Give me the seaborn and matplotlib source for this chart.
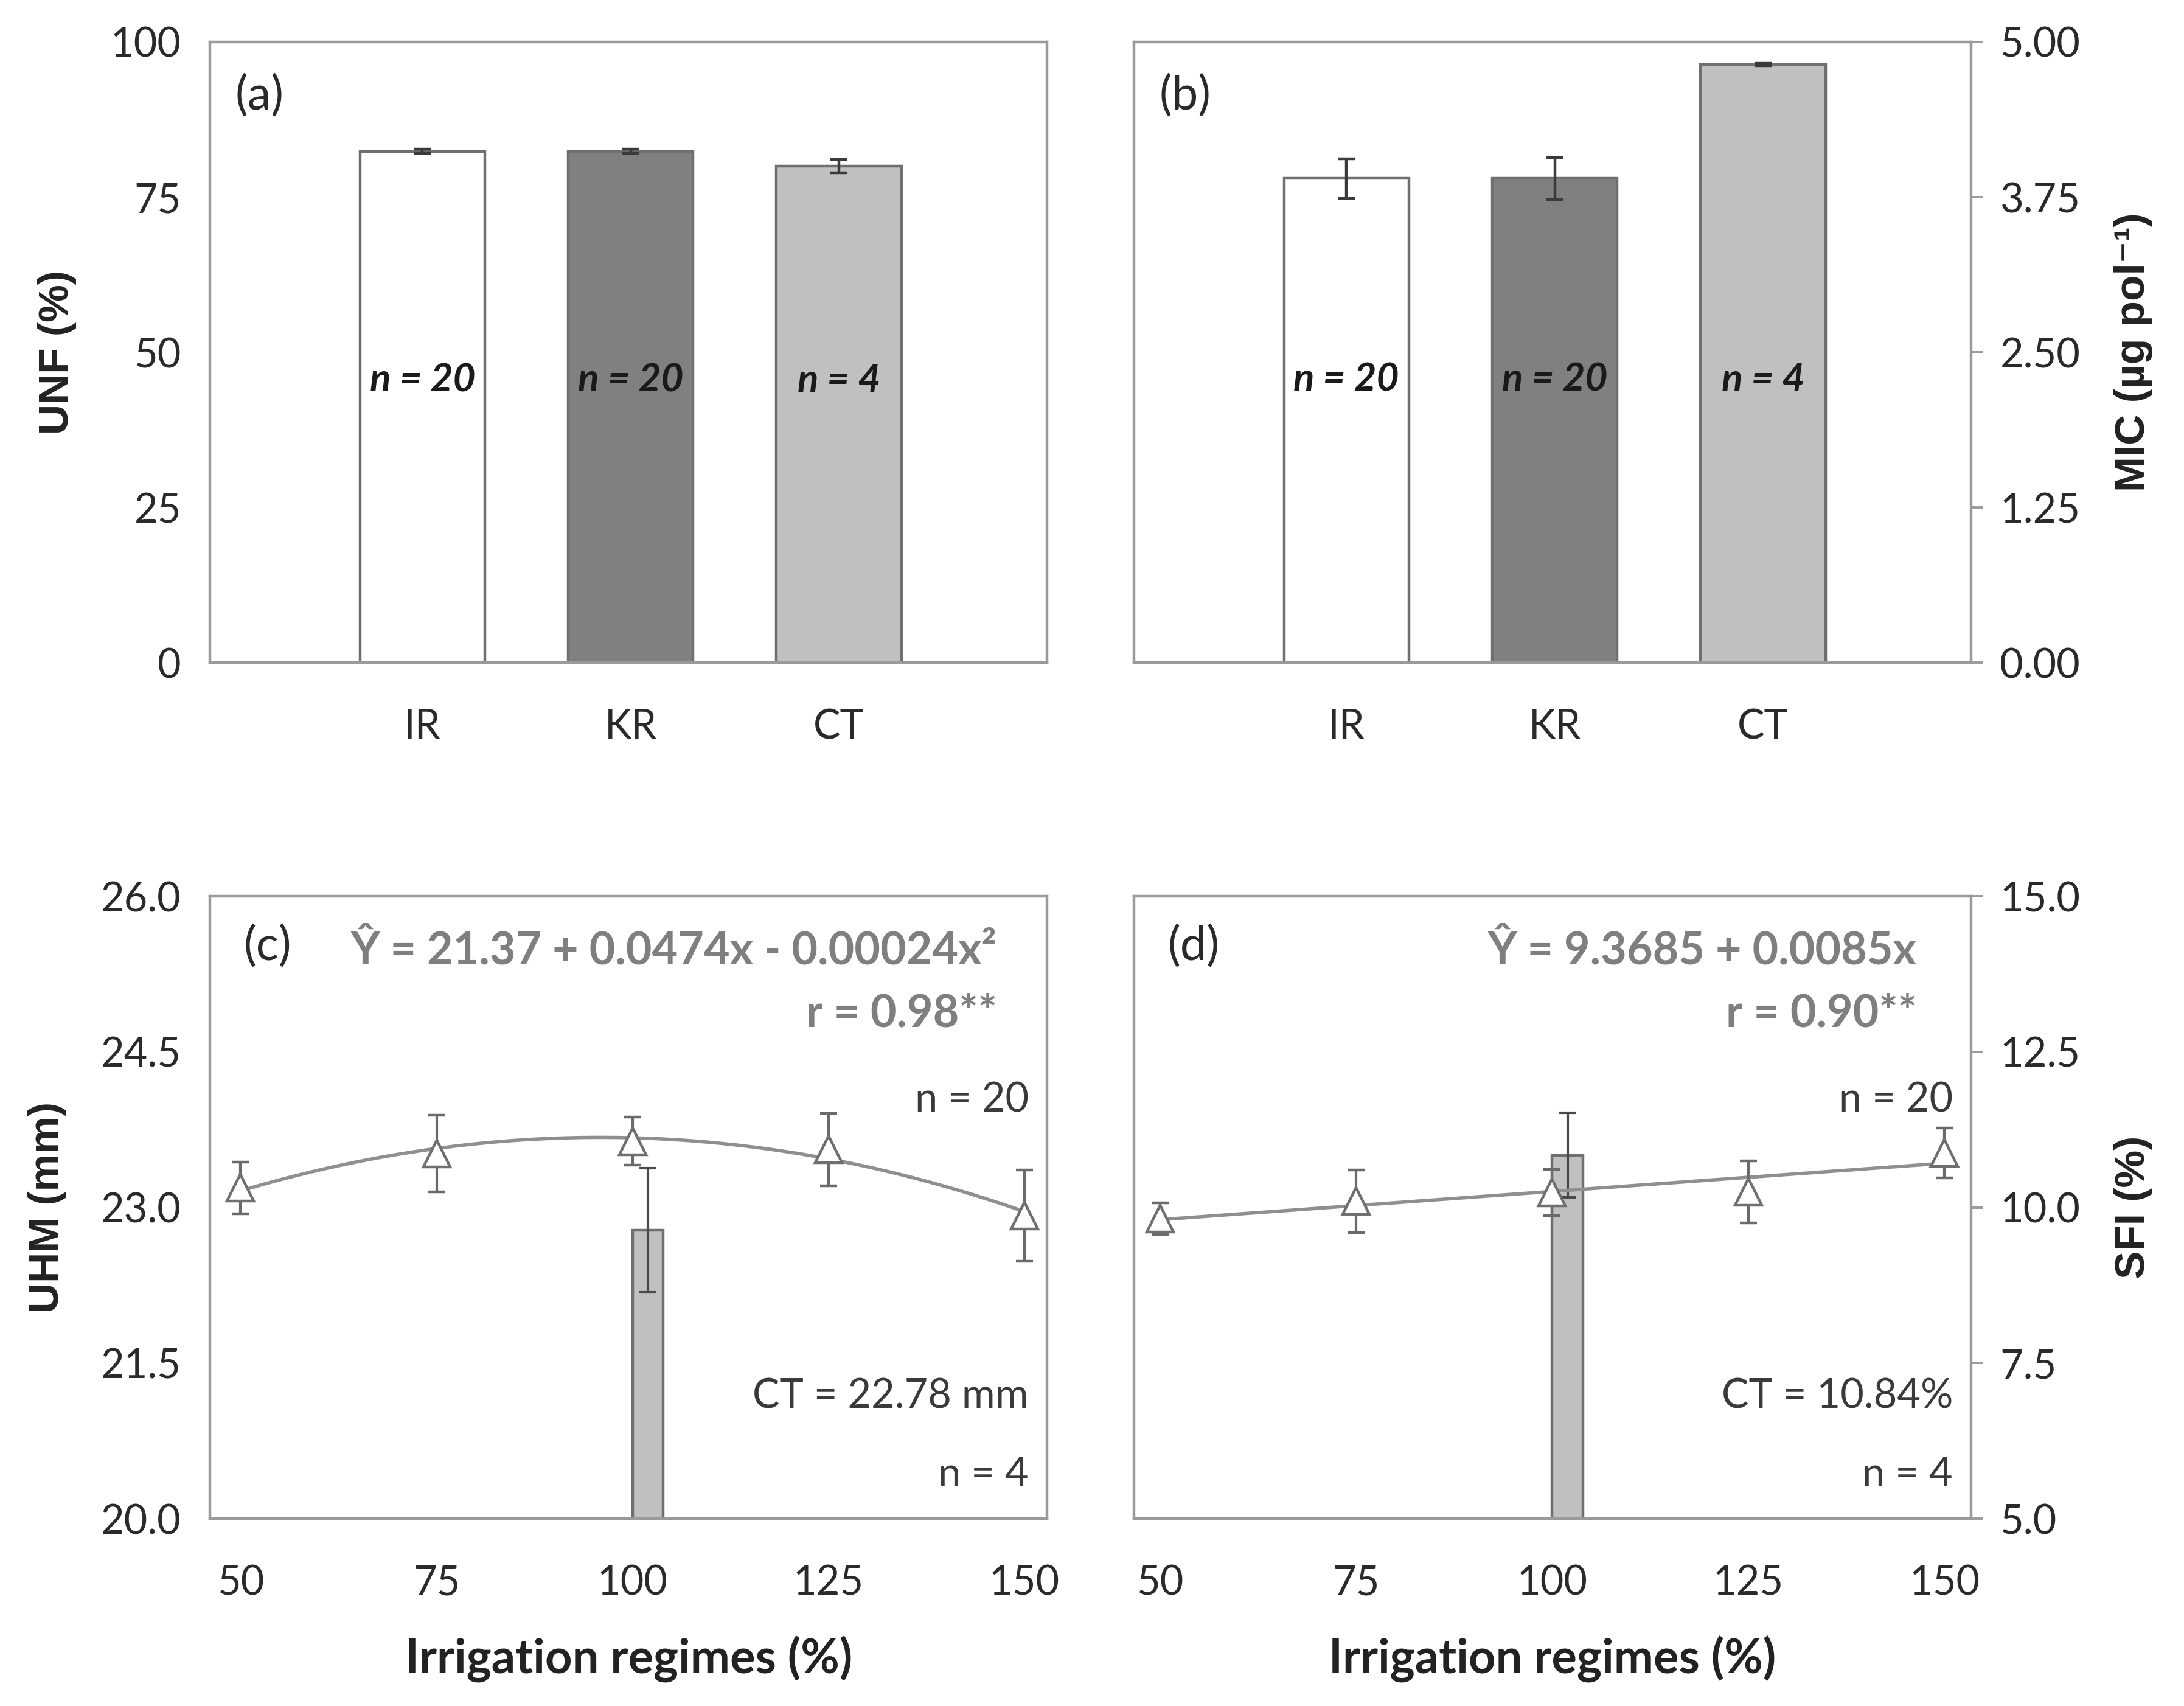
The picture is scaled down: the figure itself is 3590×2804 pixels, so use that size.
import numpy as np
import pandas as pd
import matplotlib
matplotlib.use("Agg")
import matplotlib.pyplot as plt
import seaborn as sns

# ---------------- data ----------------
categories = ["IR", "KR", "CT"]
unf_values = [82.4, 82.4, 80.0]
unf_errors = [0.3, 0.3, 1.1]
mic_values = [3.90, 3.90, 4.82]
mic_errors = [0.16, 0.17, 0.01]
n_labels = ["n = 20", "n = 20", "n = 4"]

irrigation = [50, 75, 100, 125, 150]
uhm_values = [23.19, 23.52, 23.64, 23.56, 22.92]
uhm_errors = [0.25, 0.37, 0.23, 0.35, 0.44]
uhm_ct_value = 22.78
uhm_ct_error = 0.60

sfi_values = [9.82, 10.10, 10.24, 10.25, 10.88]
sfi_errors = [0.25, 0.50, 0.37, 0.50, 0.40]
sfi_ct_value = 10.84
sfi_ct_error = 0.68

ct_position = 100

# ---------------- style ----------------
sns.set_theme(style="white")
plt.rcParams["font.family"] = ["Lato", "DejaVu Sans"]

SPINE = "#9a9a9a"
TXT = "#2a2a2a"
EQ = "#7f7f7f"
bar_colors = ["#ffffff", "#808080", "#c0c0c0"]

fig = plt.figure(figsize=(17.95, 14.02), dpi=200)
W, H = 1560.0, 1220.0
def rect(l, r, t, b):
    return [l / W, 1 - b / H, (r - l) / W, (b - t) / H]

ax_a = fig.add_axes(rect(150, 748, 30, 474))
ax_b = fig.add_axes(rect(810, 1408, 30, 474))
ax_c = fig.add_axes(rect(150, 748, 641, 1086))
ax_d = fig.add_axes(rect(810, 1408, 641, 1086))

TICK_FS = 24
YLAB_KW = dict(fontsize=25, fontweight="bold", color="#222222",
               family=["Liberation Sans", "DejaVu Sans"])

def style_axes(ax, right=False):
    for s in ax.spines.values():
        s.set_visible(True)
        s.set_color(SPINE)
        s.set_linewidth(1.6)
    ax.tick_params(axis="both", which="both", direction="out", length=7,
                   width=1.4, color=SPINE, labelsize=TICK_FS, labelcolor=TXT)
    ax.tick_params(axis="y", pad=10)
    ax.tick_params(axis="x", pad=20)
    if right:
        ax.yaxis.tick_right()
        ax.yaxis.set_label_position("right")
    ax.grid(False)

# -------- bar panels --------
def bar_panel(ax, vals, errs, ylim, yticks, fmt, ylabel, right, letter, ny):
    df = pd.DataFrame({"cat": categories, "val": vals})
    sns.barplot(data=df, x="cat", y="val", hue="cat", palette=bar_colors,
                order=categories, errorbar=None, width=0.6, ax=ax,
                edgecolor="#6f6f6f", linewidth=1.6, legend=False)
    ax.errorbar(range(len(categories)), vals, yerr=errs, fmt="none",
                ecolor="#3a3a3a", elinewidth=1.6, capsize=5, capthick=1.6)
    ax.set_xlim(-1.02, 3.0)
    ax.set_ylim(*ylim)
    ax.set_yticks(yticks)
    ax.set_yticklabels([fmt.format(t) for t in yticks])
    ax.set_xlabel("")
    style_axes(ax, right=right)
    ax.set_ylabel(ylabel, labelpad=20, **YLAB_KW)
    for i, lab in enumerate(n_labels):
        ax.text(i, ny, lab, ha="center", va="center", fontsize=23,
                fontstyle="italic", fontweight="bold", color="#1a1a1a")
    ax.text(0.03, 0.913, letter, transform=ax.transAxes, ha="left",
            va="center", fontsize=28, color=TXT)

bar_panel(ax_a, unf_values, unf_errors, (0, 100), [0, 25, 50, 75, 100],
          "{:.0f}", "UNF (%)", False, "(a)", 45.5)
bar_panel(ax_b, mic_values, mic_errors, (0, 5), [0, 1.25, 2.5, 3.75, 5.0],
          "{:.2f}", "MIC (µg pol⁻¹)", True, "(b)", 2.28)

# -------- line panels --------
def line_panel(ax, vals, errs, ct_val, ct_err, order, ylim, yticks, ylabel,
               right, letter, eq, rtxt, cttxt, eq_right, xlim):
    ax.bar(ct_position, ct_val, width=3.9, align="edge", color="#c0c0c0",
           edgecolor="#6f6f6f", linewidth=1.6, zorder=2)
    ax.errorbar(ct_position + 1.95, ct_val, yerr=ct_err, fmt="none",
                ecolor="#4a4a4a", elinewidth=1.5, capsize=5, capthick=1.5,
                zorder=3)
    sns.regplot(x=irrigation, y=vals, order=order, ci=None, scatter=False,
                ax=ax, truncate=True,
                line_kws=dict(color="#8f8f8f", lw=2.0, zorder=4))
    ax.errorbar(irrigation, vals, yerr=errs, fmt="^", ms=16,
                mfc="white", mec="#6f6f6f", mew=1.6, ecolor="#6a6a6a",
                elinewidth=1.5, capsize=5, capthick=1.5, zorder=5)
    ax.set_xlim(*xlim)
    ax.set_ylim(*ylim)
    ax.set_xticks(irrigation)
    ax.set_yticks(yticks)
    ax.set_yticklabels(["{:.1f}".format(t) for t in yticks])
    style_axes(ax, right=right)
    ax.set_xlabel("Irrigation regimes (%)", fontsize=28, fontweight="bold",
                  color="#222222", labelpad=20)
    ax.set_ylabel(ylabel, labelpad=20, **YLAB_KW)
    ax.text(0.04, 0.919, letter, transform=ax.transAxes, ha="left",
            va="center", fontsize=28, color=TXT)
    ax.text(eq_right, 0.912, eq, transform=ax.transAxes, ha="right",
            va="center", fontsize=26.5, fontweight="bold", color=EQ)
    ax.text(eq_right, 0.812, rtxt, transform=ax.transAxes, ha="right",
            va="center", fontsize=26.5, fontweight="bold", color=EQ)
    ax.text(0.978, 0.672, "n = 20", transform=ax.transAxes, ha="right",
            va="center", fontsize=24, color="#3a3a3a")
    ax.text(0.978, 0.196, cttxt, transform=ax.transAxes, ha="right",
            va="center", fontsize=24, color="#3a3a3a")
    ax.text(0.978, 0.07, "n = 4", transform=ax.transAxes, ha="right",
            va="center", fontsize=24, color="#3a3a3a")

line_panel(ax_c, uhm_values, uhm_errors, uhm_ct_value, uhm_ct_error, 2,
           (20, 26), [20.0, 21.5, 23.0, 24.5, 26.0], "UHM (mm)", False, "(c)",
           "Ŷ = 21.37 + 0.0474x - 0.00024x²", "r = 0.98**", "CT = 22.78 mm",
           0.94, (46.1, 152.9))
line_panel(ax_d, sfi_values, sfi_errors, sfi_ct_value, sfi_ct_error, 1,
           (5, 15), [5.0, 7.5, 10.0, 12.5, 15.0], "SFI (%)", True, "(d)",
           "Ŷ = 9.3685 + 0.0085x", "r = 0.90**", "CT = 10.84%", 0.935,
           (46.7, 153.4))

fig.savefig("out.png", dpi=200, facecolor="white")
